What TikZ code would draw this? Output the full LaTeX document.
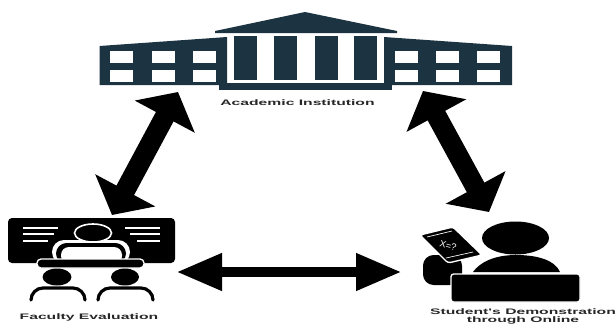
\documentclass[tikz,border=0pt]{standalone}
\usepackage{tikz}
\usetikzlibrary{arrows.meta}
\usepackage{fontspec}
\setmainfont{Liberation Sans}
\newfontfamily\widefont[FakeStretch=1.96]{Liberation Sans}
\definecolor{bldg}{HTML}{1C3341}
\begin{document}
\begin{tikzpicture}[
x=0.75pt,y=-0.75pt,
BigArrow/.style={line width=15pt,{Triangle[length=21pt,width=50pt]}-{Triangle[length=21pt,width=50pt]}},
LongArrow/.style={line width=8.2pt,{Triangle[length=34.5pt,width=26pt]}-{Triangle[length=34.5pt,width=26pt]}},
MyLabels/.style={font=\widefont\bfseries\fontsize{6}{5.6}\selectfont,align=center,text=black!85,inner sep=0pt},
Pane/.style={fill=white},
Rail/.style={draw=white,line width=1.1pt},
Shoulders/.style={draw=black,line width=2.4pt,line cap=round},
]
\useasboundingbox (0,0) rectangle (616,325);

% building
\fill[bldg] (99.5,46) -- (227,37) -- (227,85) -- (99.5,85) -- cycle;
\fill[bldg] (384,37) -- (512,46) -- (512,85) -- (384,85) -- cycle;
\fill[bldg] (305,12) -- (397,31) -- (397,33) -- (215,33) -- (215,31) -- cycle;
\fill[bldg] (219,83) rectangle (392,90);
\fill[white] (229,35) rectangle (383,83);
\foreach \Xa in {234,274,315,354}
  \fill[bldg] (\Xa,36) rectangle ++(22.5,44);
\foreach \Xa in {110,152,193,395,436,477}
  \foreach \Ya in {51,70}
    \fill[Pane] (\Xa,\Ya) rectangle ++(23,11.5);
\node[MyLabels] (institution) at (297.5,103) {Academic Institution};

% faculty icon
\fill[black,rounded corners=3pt] (8,218) rectangle (175,263);
\draw[Rail] (23,228) -- (58,228) (23,234) -- (54,234) (23,241) -- (48,241);
\draw[Rail] (125,228) -- (160,228) (130,234) -- (160,234) (137,241) -- (160,241);
\fill[white,rounded corners=9pt] (52,264) -- (52,240) -- (130,240) -- (130,264) -- cycle;
\fill[black,rounded corners=8pt] (56,264) -- (56,243) -- (126,243) -- (126,264) -- cycle;
\fill[white,rounded corners=6pt] (61,264) -- (61,247) -- (122,247) -- (122,264) -- cycle;
\fill[white] (40,263) rectangle (142,270);
\fill[black,draw=white,line width=1.2pt] (93,233) ellipse (18.5 and 9);
\fill[black,draw=white,line width=1pt,rounded corners=3pt] (37,259) rectangle (144,268);
\fill[black] (57,277) ellipse (14.5 and 8.5);
\fill[black] (125,277) ellipse (14 and 8.5);
\draw[Shoulders] (31,300) arc (180:270:12) -- (73,288) arc (-90:0:12);
\draw[Shoulders] (98,300) arc (180:270:12) -- (141,288) arc (-90:0:12);
\node[MyLabels] (faculty) at (89,317) {Faculty Evaluation};

% student icon
\fill[black] (515.5,238) ellipse (33.5 and 16.5);
\fill[black] (473,272) .. controls (480,262) and (495,255) .. (516,255) .. controls (537,255) and (555,260) .. (560,272) -- cycle;
\fill[black,rounded corners=8pt] (423,255) rectangle (462,285);
\fill[black,draw=white,line width=1pt,rounded corners=2pt] (420,235) -- (453,227) -- (482,255) -- (448,263) -- cycle;
\draw[white,line width=0.5pt] (427,237) -- (452,231) (446,258) -- (473,252);
\node[text=white,font=\fontsize{7}{8}\selectfont,rotate=-15,inner sep=0pt] (sum) at (448,246) {X=?};
\fill[black,draw=white,line width=1pt,rounded corners=2pt] (451,274) rectangle (580,302);
\node[MyLabels] (student) at (523,316.5) {Student's Demonstration\\through Online};

% arrows
\coordinate (instL) at (178,92);
\coordinate (facT) at (112,215);
\coordinate (instR) at (423,91);
\coordinate (stuT) at (489,212);
\coordinate (facR) at (176,272);
\coordinate (stuL) at (402,272);
\draw[BigArrow] (instL) -- (facT);
\draw[BigArrow] (instR) -- (stuT);
\draw[LongArrow] (facR) -- (stuL);
\end{tikzpicture}
\end{document}
